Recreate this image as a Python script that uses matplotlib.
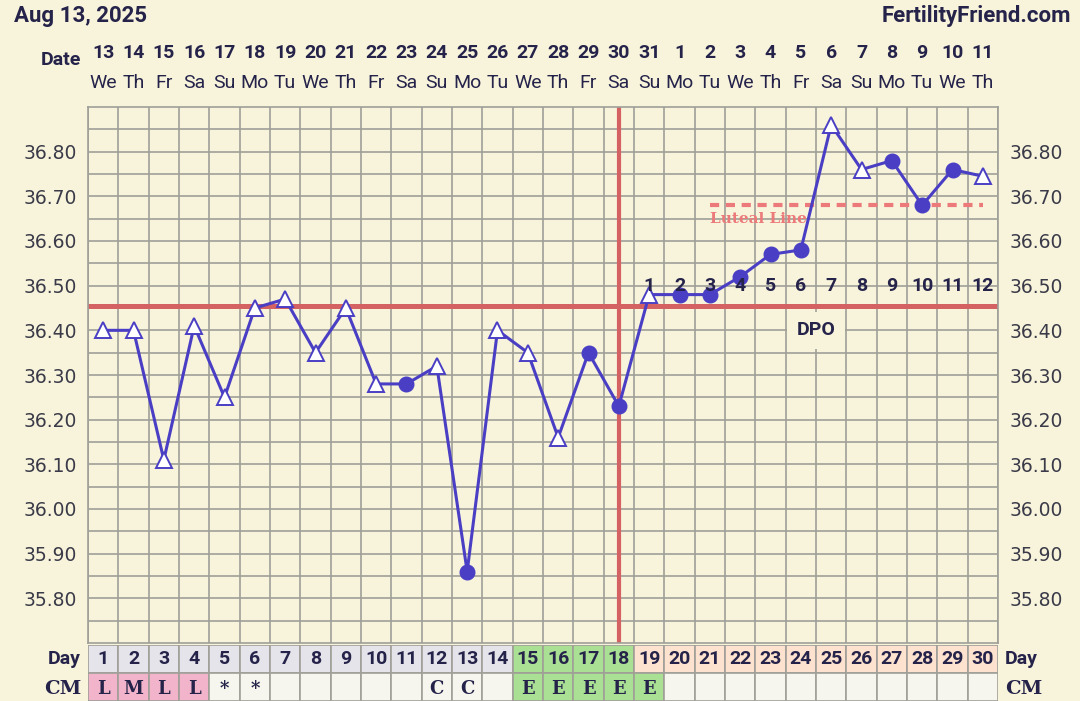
import matplotlib.pyplot as plt
import matplotlib.transforms as mtransforms
from matplotlib.patches import Rectangle
import numpy as np

# data
dates = ['13', '14', '15', '16', '17', '18', '19', '20', '21', '22', '23', '24', '25', '26', '27',
         '28', '29', '30', '31', '1', '2', '3', '4', '5', '6', '7', '8', '9', '10', '11']
weekdays = ['We', 'Th', 'Fr', 'Sa', 'Su', 'Mo', 'Tu', 'We', 'Th', 'Fr', 'Sa', 'Su', 'Mo', 'Tu', 'We',
            'Th', 'Fr', 'Sa', 'Su', 'Mo', 'Tu', 'We', 'Th', 'Fr', 'Sa', 'Su', 'Mo', 'Tu', 'We', 'Th']
temps = [36.40, 36.40, 36.11, 36.41, 36.25, 36.45, 36.47, 36.35, 36.45, 36.28,
         36.28, 36.32, 35.86, 36.40, 36.35, 36.16, 36.35, 36.23, 36.48, 36.48,
         36.48, 36.52, 36.57, 36.58, 36.86, 36.76, 36.78, 36.68, 36.76, 36.745]
# 't' = open triangle, 'c' = filled circle
marks = ['t', 't', 't', 't', 't', 't', 't', 't', 't', 't',
         'c', 't', 'c', 't', 't', 't', 'c', 'c', 't', 'c',
         'c', 'c', 'c', 'c', 't', 't', 'c', 'c', 'c', 't']
cm = ['L', 'M', 'L', 'L', '*', '*', '', '', '', '', '', 'C', 'C', '', 'E',
      'E', 'E', 'E', 'E', '', '', '', '', '', '', '', '', '', '', '']
coverline = 36.455
ovulation_day = 18
luteal_level = 36.68
luteal_start, luteal_end = 21, 30

days = np.arange(1, 31)
W, H, DPI = 1080, 701, 100
bg = '#f8f4dc'
navy = '#25234a'
purple = '#4a3fc4'
red = '#d46262'
gridc = '#a09f98'

fig = plt.figure(figsize=(W / DPI, H / DPI), dpi=DPI, facecolor=bg)

def fy(py):
    return 1 - py / H

px_l, px_r, py_t, py_b = 88, 998, 107, 643
ax = fig.add_axes([px_l / W, fy(py_b), (px_r - px_l) / W, (py_b - py_t) / H])
ax.set_facecolor(bg)
ax.set_xlim(0.5, 30.5)
ax.set_ylim(35.70, 36.90)
ax.set_xticks(np.arange(0.5, 31, 1))
ax.set_xticklabels([])
ax.set_yticks(np.round(np.arange(35.80, 36.85, 0.1), 2))
ax.set_yticklabels(['%.2f' % v for v in np.arange(35.80, 36.85, 0.1)])
ax.set_yticks(np.arange(35.75, 36.90, 0.1), minor=True)
ax.grid(True, which='both', color=gridc, lw=1.2)
ax.tick_params(which='both', length=0, labelsize=13.5, labelcolor='#3a3a48',
               labelright=True, pad=8)
for s in ax.spines.values():
    s.set_color(gridc)
    s.set_linewidth(1.2)
ax.set_axisbelow(True)

# cover line and ovulation line
ax.axhline(coverline, color=red, lw=3.6, zorder=2)
ax.axvline(ovulation_day, color=red, lw=3.0, zorder=2)

# luteal line
ax.plot([luteal_start, luteal_end], [luteal_level, luteal_level], color='#ec7a7a',
        lw=3, ls=(0, (2.2, 1.6)), zorder=2)
ax.text(luteal_start, luteal_level - 0.016, 'Luteal Line', color='#ec7a7a', fontsize=11,
        fontweight='bold', family='DejaVu Serif', va='top', ha='left', zorder=2)

# temperature line
ax.plot(days, temps, color=purple, lw=2.2, zorder=3)
for d, t, m in zip(days, temps, marks):
    if m == 't':
        ax.plot(d, t, marker='^', ms=12, mfc='white', mec=purple, mew=1.4, zorder=4)
    else:
        ax.plot(d, t, marker='o', ms=10.5, mfc=purple, mec=purple, zorder=4)

# DPO numbers
for i, d in enumerate(range(ovulation_day + 1, 31)):
    ax.text(d, 36.50, str(i + 1), ha='center', va='center', fontsize=14,
            fontweight='bold', color=navy, zorder=5, family='Roboto')
ax.text(24.5, 36.40, 'DPO', ha='center', va='center', fontsize=14, fontweight='bold',
        color=navy, zorder=5, family='Roboto',
        bbox=dict(boxstyle='square,pad=0.5', fc=bg, ec='none'))

# header texts
fig.text(14 / W, fy(16), 'Aug 13, 2025', fontsize=16, fontweight='bold', color=navy,
         va='center', ha='left', family='Roboto')
fig.text(1071 / W, fy(16), 'FertilityFriend.com', fontsize=16, fontweight='bold',
         color=navy, va='center', ha='right', family='Roboto')
trans = mtransforms.blended_transform_factory(ax.transData, fig.transFigure)
fig.text(81 / W, fy(60), 'Date', fontsize=14, fontweight='bold', color=navy,
         va='center', ha='right', family='Roboto')
for d, ds, wd in zip(days, dates, weekdays):
    ax.text(d, fy(53), ds, transform=trans, ha='center', va='center', fontsize=14,
            fontweight='bold', color=navy, family='Roboto')
    ax.text(d, fy(83), wd, transform=trans, ha='center', va='center', fontsize=14,
            color=navy, family='Roboto')

# bottom table
tax = fig.add_axes([px_l / W, 0, (px_r - px_l) / W, (H - 645) / H])
tax.set_xlim(0.5, 30.5)
tax.set_ylim(0, 56)
tax.axis('off')
for d in days:
    if d <= 14:
        dc = '#e4e4ea'
    elif d <= 18:
        dc = '#a9e094'
    else:
        dc = '#fde2cf'
    if d <= 4:
        cc = '#f2b4ca'
    elif 15 <= d <= 19:
        cc = '#a9e094'
    else:
        cc = '#f6f6ee'
    tax.add_patch(Rectangle((d - 0.5, 28), 1, 28, fc=dc, ec=gridc, lw=1.2))
    tax.add_patch(Rectangle((d - 0.5, 0), 1, 28, fc=cc, ec=gridc, lw=1.2))
    tax.text(d, 42, str(d), ha='center', va='center', fontsize=14, fontweight='bold',
             color=navy, family='Roboto')
    tax.text(d, 12, cm[d - 1], ha='center', va='center', fontsize=13, fontweight='bold',
             color=navy, family='DejaVu Serif')
fig.text(81 / W, fy(659), 'Day', fontsize=14, fontweight='bold', color=navy,
         va='center', ha='right', family='Roboto')
fig.text(1005 / W, fy(659), 'Day', fontsize=14, fontweight='bold', color=navy,
         va='center', ha='left', family='Roboto')
fig.text(81 / W, fy(689), 'CM', fontsize=14, fontweight='bold', color=navy,
         va='center', ha='right', family='DejaVu Serif')
fig.text(1005 / W, fy(689), 'CM', fontsize=14, fontweight='bold', color=navy,
         va='center', ha='left', family='DejaVu Serif')

fig.savefig('out.png', dpi=DPI, facecolor=bg)
